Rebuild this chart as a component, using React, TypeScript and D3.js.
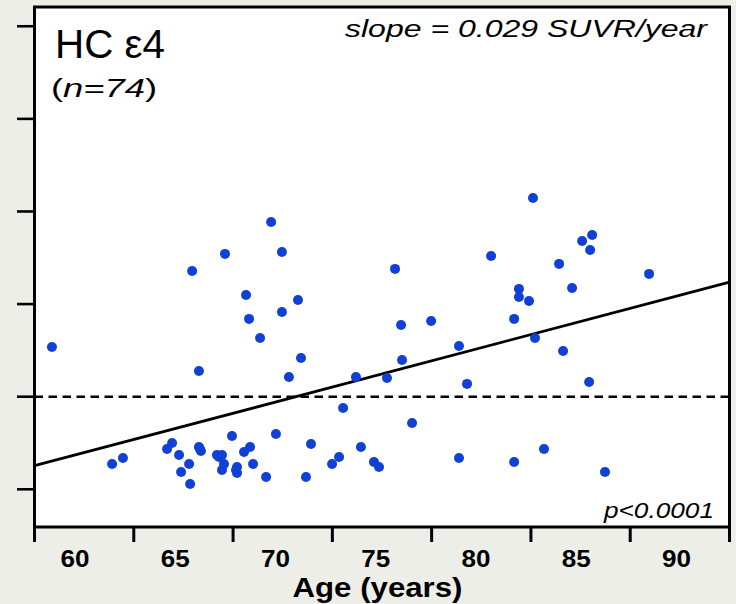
import React from "react";
import * as d3 from "d3";

// Age (years)
const ages: number[] = [
  58.85, 61.85, 62.39, 64.84, 64.59, 65.19, 65.69, 65.29, 65.74, 65.84,
  66.18, 66.18, 66.28, 67.08, 67.33, 67.43, 67.33, 68.08, 68.08, 67.83,
  68.43, 68.73, 68.88, 69.53, 70.02, 71.52, 71.77, 72.82, 73.17, 74.26,
  74.91, 75.16, 73.37, 69.78, 67.48, 70.32, 68.53, 71.12, 70.32, 68.68,
  69.23, 71.27, 70.67, 74.01, 82.84, 85.79, 85.29, 85.69, 80.75, 75.96,
  84.14, 88.63, 84.79, 82.14, 82.14, 82.64, 76.26, 77.76, 81.9, 79.15,
  82.94, 76.31, 75.56, 84.34, 79.55, 85.64, 76.81, 79.15, 81.9, 83.39,
  86.43, 68.03, 66.23, 67.18,
];
// SUVR
const suvr: number[] = [
  1.768, 1.137, 1.169, 1.25, 1.218, 1.185, 1.137, 1.093, 1.029, 2.179,
  1.639, 1.228, 1.207, 1.185, 1.185, 1.137, 1.104, 1.12, 1.088, 1.288,
  1.201, 1.228, 1.137, 1.066, 1.299, 1.066, 1.245, 1.137, 1.174, 1.228,
  1.147, 1.12, 1.439, 2.443, 2.271, 2.281, 2.049, 2.022, 1.957, 1.92,
  1.817, 1.709, 1.606, 1.606, 2.573, 2.373, 2.341, 2.292, 2.26, 2.19,
  2.217, 2.163, 2.087, 2.082, 2.038, 2.017, 1.887, 1.909, 1.92, 1.774,
  1.817, 1.698, 1.601, 1.747, 1.569, 1.579, 1.358, 1.169, 1.147, 1.218,
  1.093, 1.104, 1.218, 1.174,
];

const xLabels: number[] = [60, 65, 70, 75, 80, 85, 90];
const yTicks: number[] = [1.0, 1.5, 2.0, 2.5, 3.0, 3.5];
const cutoff = 1.5;
const slope = 0.0286;
const interceptAt60 = 1.185;

const W = 736;
const H = 604;
const box = { left: 34.5, right: 729.5, top: 7, bottom: 527 };

const x = d3.scaleLinear().domain([57.98, 92.64]).range([box.left, box.right]);
const y = d3.scaleLinear().domain([0.7964, 3.604]).range([box.bottom, box.top]);
const xTicks = d3.range(8).map((i) => x.domain()[0] + (i * (x.domain()[1] - x.domain()[0])) / 7);

const FONT = "'Liberation Sans', Arial, sans-serif";

export default function App() {
  const [x0, x1] = x.domain();
  const regLine = d3.line<number>()
    .x((d) => x(d))
    .y((d) => y(interceptAt60 + slope * (d - 60)));
  const pts = ages.map((a, i) => ({ a, v: suvr[i] }));
  return (
    <svg width={W} height={H} style={{ position: "absolute", left: 0, top: 0, display: "block" }}>
      <rect x={0} y={0} width={W} height={H} fill="#eeeee9" />
      <rect x={box.left} y={box.top} width={box.right - box.left} height={box.bottom - box.top} fill="#ffffff" />
      <defs>
        <clipPath id="plotclip">
          <rect x={box.left} y={box.top} width={box.right - box.left} height={box.bottom - box.top} />
        </clipPath>
      </defs>
      <g clipPath="url(#plotclip)">
        <line x1={box.left} x2={box.right} y1={y(cutoff)} y2={y(cutoff)} stroke="#000" strokeWidth={2.4} strokeDasharray="8.5,5.5" />
        <path d={regLine([x0, x1]) || ""} stroke="#000" strokeWidth={2.8} fill="none" />
        {pts.map((p, i) => (
          <circle key={i} cx={x(p.a)} cy={y(p.v)} r={5} fill="#1140d6" />
        ))}
      </g>
      <rect x={box.left} y={box.top} width={box.right - box.left} height={box.bottom - box.top} fill="none" stroke="#000" strokeWidth={3} />
      {yTicks.map((t) => (
        <line key={t} x1={17} x2={box.left} y1={y(t)} y2={y(t)} stroke="#000" strokeWidth={2.6} />
      ))}
      {xTicks.map((t, i) => (
        <line key={i} x1={x(t)} x2={x(t)} y1={box.bottom} y2={542} stroke="#000" strokeWidth={3} />
      ))}
      {xLabels.map((t) => (
        <text key={t} x={x(t)} y={567} textAnchor="middle" fontFamily={FONT} fontWeight="bold" fontSize={23} textLength={29} lengthAdjust="spacingAndGlyphs" fill="#000">
          {t}
        </text>
      ))}
      <text x={377.5} y={597} textAnchor="middle" fontFamily={FONT} fontWeight="bold" fontSize={27.5} textLength={170} lengthAdjust="spacingAndGlyphs" fill="#000">
        Age (years)
      </text>
      <text x={55} y={58} fontFamily={FONT} fontSize={41} textLength={110} lengthAdjust="spacingAndGlyphs" fill="#000">
        HC ε4
      </text>
      <text x={51} y={97} fontFamily={FONT} fontSize={25} textLength={106} lengthAdjust="spacingAndGlyphs" fill="#000">
        (<tspan fontStyle="italic">n=74</tspan>)
      </text>
      <text x={345} y={37} fontFamily={FONT} fontStyle="italic" fontSize={23} textLength={362} lengthAdjust="spacingAndGlyphs" fill="#000">
        slope = 0.029 SUVR/year
      </text>
      <text x={604} y={518} fontFamily={FONT} fontStyle="italic" fontSize={22} textLength={110} lengthAdjust="spacingAndGlyphs" fill="#000">
        p&lt;0.0001
      </text>
    </svg>
  );
}
